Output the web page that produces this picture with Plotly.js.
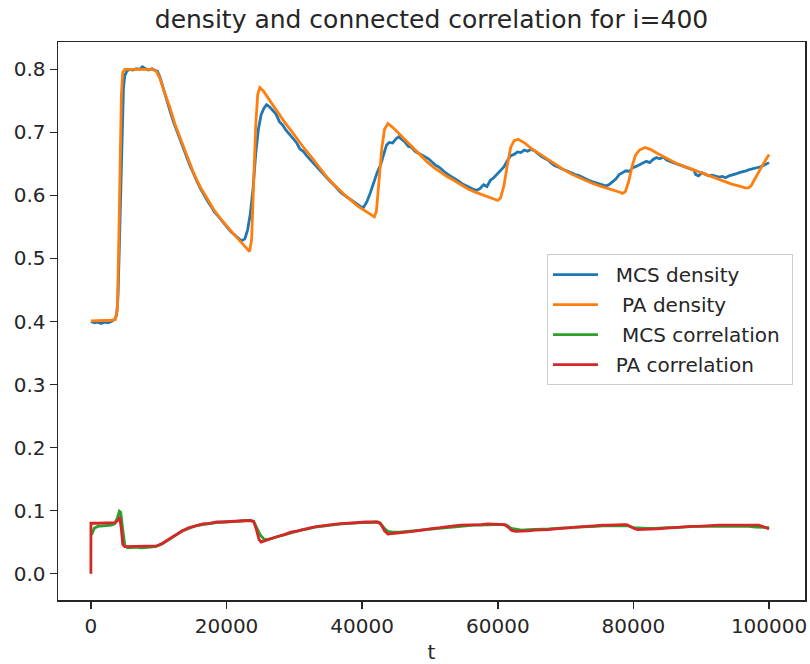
<!DOCTYPE html>
<html>
<head>
<meta charset="utf-8">
<script src="https://cdn.plot.ly/plotly-3.0.1.min.js"></script>
<style>body{margin:0;padding:0;background:#fff}#chart{width:810px;height:664px}</style>
</head>
<body>
<div id="chart"></div>
<script>
var seriesNames = ["\u00A0\u00A0MCS density", "\u00A0\u00A0\u00A0PA density", "\u00A0\u00A0\u00A0MCS correlation\u00A0", "\u00A0\u00A0PA correlation"];
var xTickVals = [0, 20000, 40000, 60000, 80000, 100000];
var yTickVals = [0.0, 0.1, 0.2, 0.3, 0.4, 0.5, 0.6, 0.7, 0.8];

var mcsDensityT = [0,500,1000,1500,2000,2500,3000,3500,3800,4000,4200,4400,4600,4800,5000,5300,5700,6200,6700,7200,7600,8000,8500,9000,9500,9800,10200,10700,11200,11700,12200,12700,13200,13700,14200,14700,15200,15700,16200,16700,17200,17700,18200,18700,19200,19700,20200,20700,21200,21700,22200,22700,23100,23500,23900,24300,24700,25100,25500,25900,26300,26800,27300,27800,28300,28800,29300,29800,30300,30800,31300,31800,32300,32800,33300,33800,34300,34800,35300,35800,36300,36800,37300,37800,38300,38800,39300,39800,40200,40700,41200,41700,42200,42700,43200,43600,44000,44500,45000,45400,45800,46300,46800,47300,47800,48300,48800,49300,49800,50300,50800,51300,51800,52300,52800,53300,53800,54300,54800,55300,55800,56300,56900,57400,57900,58400,58900,59400,59900,60400,60900,61400,61900,62400,62900,63400,63900,64400,64900,65400,65900,66400,66900,67400,67900,68400,68900,69400,69900,70400,70900,71400,71900,72400,72900,73400,73900,74400,74900,75400,75900,76400,76900,77400,77900,78400,78900,79400,79900,80400,80900,81400,81900,82400,82900,83400,83900,84400,84900,85400,85900,86400,86900,87400,87900,88400,88900,89200,89600,90100,90600,91100,91600,92100,92600,93100,93600,94100,94600,95100,95600,96100,96600,97100,97600,98100,98600,99100,99600,100000];
var mcsDensity = [0.400,0.398,0.399,0.397,0.399,0.398,0.400,0.403,0.410,0.440,0.520,0.620,0.710,0.770,0.790,0.797,0.800,0.799,0.801,0.800,0.804,0.801,0.799,0.801,0.798,0.797,0.787,0.768,0.749,0.733,0.716,0.701,0.686,0.671,0.659,0.645,0.632,0.621,0.610,0.600,0.591,0.583,0.574,0.568,0.561,0.554,0.548,0.542,0.537,0.532,0.528,0.531,0.545,0.570,0.610,0.665,0.705,0.728,0.738,0.744,0.741,0.735,0.729,0.717,0.711,0.703,0.697,0.690,0.684,0.674,0.670,0.663,0.657,0.651,0.645,0.640,0.634,0.628,0.622,0.617,0.611,0.605,0.601,0.597,0.593,0.589,0.585,0.582,0.581,0.590,0.604,0.620,0.636,0.648,0.665,0.680,0.684,0.683,0.690,0.693,0.689,0.685,0.678,0.676,0.670,0.667,0.665,0.662,0.658,0.653,0.648,0.645,0.640,0.636,0.632,0.629,0.625,0.622,0.618,0.616,0.613,0.610,0.608,0.611,0.617,0.614,0.624,0.628,0.634,0.640,0.645,0.655,0.663,0.665,0.669,0.668,0.672,0.670,0.673,0.671,0.666,0.662,0.659,0.656,0.651,0.647,0.645,0.642,0.640,0.638,0.635,0.633,0.632,0.629,0.627,0.624,0.622,0.620,0.618,0.617,0.615,0.617,0.621,0.626,0.633,0.636,0.639,0.638,0.644,0.646,0.649,0.651,0.654,0.652,0.657,0.660,0.658,0.661,0.656,0.654,0.652,0.650,0.648,0.646,0.645,0.643,0.640,0.633,0.631,0.636,0.633,0.631,0.632,0.630,0.629,0.630,0.628,0.631,0.632,0.634,0.636,0.637,0.639,0.641,0.642,0.644,0.645,0.647,0.650,0.652];

var paDensityT = [0,1000,2000,3000,3600,3900,4100,4300,4500,4700,5000,6000,7000,8000,9000,9600,10200,10800,11600,12400,13200,14200,15200,16200,17200,18200,19200,20200,21200,22200,23000,23400,23700,24000,24300,24600,24900,25400,26500,27500,28500,29500,30500,31500,32500,33500,34500,35500,36500,37500,38500,39500,40500,41400,41800,42100,42500,42900,43300,43800,44500,45500,46500,47500,48500,49500,50500,51500,52500,53500,54500,55500,56500,57500,58500,59500,60000,60400,60900,61400,61900,62400,63000,64000,65000,66000,67000,68000,69000,70000,71000,72000,73000,74000,75000,76000,77000,78000,78400,78800,79300,79800,80300,80900,81700,82500,83500,84500,85500,86500,87500,88500,89500,90500,91500,92500,93500,94500,95500,96500,97000,97400,97900,98500,99200,100000];
var paDensity = [0.401,0.401,0.401,0.402,0.403,0.420,0.520,0.650,0.760,0.795,0.800,0.800,0.800,0.800,0.800,0.798,0.785,0.765,0.741,0.713,0.690,0.661,0.634,0.612,0.593,0.576,0.562,0.549,0.537,0.525,0.515,0.511,0.530,0.620,0.710,0.760,0.771,0.766,0.748,0.732,0.717,0.703,0.688,0.674,0.661,0.646,0.633,0.621,0.610,0.600,0.591,0.582,0.575,0.569,0.566,0.575,0.620,0.675,0.705,0.714,0.708,0.697,0.686,0.675,0.664,0.654,0.645,0.637,0.630,0.624,0.617,0.611,0.606,0.602,0.598,0.594,0.592,0.596,0.615,0.648,0.676,0.687,0.689,0.683,0.674,0.667,0.660,0.652,0.646,0.639,0.633,0.628,0.623,0.619,0.615,0.612,0.608,0.605,0.603,0.606,0.622,0.646,0.664,0.672,0.676,0.673,0.667,0.661,0.655,0.650,0.646,0.642,0.637,0.633,0.629,0.625,0.621,0.618,0.615,0.612,0.612,0.616,0.626,0.638,0.651,0.665];

var mcsCorrT = [100,500,1000,2000,3000,3500,3900,4200,4400,4700,5000,5400,6500,7500,8500,9500,10500,11500,12500,13500,14500,15500,16500,17500,18500,19500,20500,21500,22500,23500,24000,24500,25000,25500,26000,27000,28000,29000,30000,31000,32000,33000,34000,35000,36000,37000,38000,39000,40000,41000,42000,42600,43200,43800,44500,45500,46500,47500,48500,49500,50500,51500,52500,53500,54500,55500,56500,57500,58500,59500,60500,61300,62000,62800,63500,64500,65500,66500,67500,68500,69500,70500,71500,72500,73500,74500,75500,76500,77500,78500,79200,80000,81000,82000,83000,84000,85000,86000,87000,88000,89000,90000,91000,92000,93000,94000,95000,96000,97000,98000,99000,100000];
var mcsCorr = [0.062,0.072,0.075,0.076,0.077,0.079,0.088,0.099,0.097,0.070,0.045,0.041,0.042,0.041,0.042,0.043,0.047,0.054,0.062,0.068,0.072,0.076,0.078,0.080,0.081,0.082,0.082,0.083,0.084,0.085,0.083,0.072,0.061,0.055,0.054,0.057,0.060,0.064,0.066,0.069,0.071,0.074,0.075,0.077,0.078,0.079,0.080,0.080,0.081,0.081,0.082,0.081,0.073,0.067,0.066,0.066,0.067,0.068,0.069,0.071,0.072,0.073,0.074,0.075,0.076,0.076,0.077,0.077,0.078,0.078,0.078,0.077,0.072,0.070,0.069,0.070,0.070,0.071,0.071,0.072,0.072,0.073,0.074,0.074,0.075,0.075,0.076,0.076,0.077,0.077,0.076,0.073,0.072,0.072,0.072,0.073,0.073,0.073,0.074,0.074,0.075,0.075,0.075,0.075,0.076,0.075,0.075,0.076,0.075,0.074,0.074,0.073];

var paCorrT = [0,10,1000,2000,3000,3600,4000,4250,4500,4700,5000,6000,7000,8000,9000,9700,10500,11500,12500,13500,14500,15500,16500,17500,18500,19500,20500,21500,22500,23500,24000,24400,24800,25100,25600,26500,27500,28500,29500,30500,31500,32500,33500,34500,35500,36500,37500,38500,39500,40500,41500,42300,42800,43300,43800,44500,45500,46500,47500,48500,49500,50500,51500,52500,53500,54500,55500,56500,57500,58500,59500,60500,61000,61500,62000,62600,63500,64500,65500,66500,67500,68500,69500,70500,71500,72500,73500,74500,75500,76500,77500,78500,79000,79500,80000,80600,81500,82500,83500,84500,85500,86500,87500,88500,89500,90500,91500,92500,93500,94500,95500,96500,97500,98500,99300,100000];
var paCorr = [0.000,0.080,0.080,0.080,0.080,0.081,0.085,0.090,0.070,0.046,0.043,0.043,0.043,0.043,0.043,0.044,0.048,0.055,0.062,0.068,0.073,0.076,0.079,0.080,0.082,0.082,0.083,0.083,0.084,0.084,0.083,0.070,0.054,0.050,0.052,0.055,0.059,0.062,0.066,0.068,0.071,0.073,0.075,0.077,0.078,0.079,0.080,0.081,0.081,0.082,0.082,0.082,0.078,0.068,0.063,0.064,0.065,0.066,0.067,0.069,0.070,0.072,0.073,0.075,0.076,0.077,0.077,0.078,0.078,0.079,0.079,0.079,0.078,0.074,0.069,0.067,0.067,0.068,0.069,0.069,0.070,0.071,0.072,0.073,0.074,0.075,0.075,0.076,0.077,0.077,0.078,0.078,0.078,0.075,0.072,0.070,0.070,0.071,0.071,0.072,0.073,0.073,0.074,0.075,0.075,0.076,0.076,0.077,0.077,0.077,0.078,0.078,0.078,0.077,0.074,0.071];

var colors = ["#1f77b4", "#ff7f0e", "#2ca02c", "#d62728"];
var FONT = "DejaVu Sans, sans-serif";
var LW = 2.8;

var traces = [
  {x: mcsDensityT, y: mcsDensity, name: seriesNames[0]},
  {x: paDensityT, y: paDensity, name: seriesNames[1]},
  {x: mcsCorrT, y: mcsCorr, name: seriesNames[2]},
  {x: paCorrT, y: paCorr, name: seriesNames[3]}
].map(function (tr, i) {
  tr.type = "scatter";
  tr.mode = "lines";
  tr.line = {color: colors[i], width: LW};
  tr.legendgroup = "g" + i;
  return tr;
});

var axisCommon = {
  showgrid: false, zeroline: false, showline: true, mirror: true,
  linecolor: "#262626", linewidth: 1.5,
  ticks: "outside", ticklen: 7, tickwidth: 1.5, tickcolor: "#262626",
  tickfont: {family: FONT, size: 20, color: "#262626"}
};

var layout = {
  width: 810, height: 664,
  margin: {l: 58, r: 5, t: 42, b: 64, pad: 0},
  paper_bgcolor: "#fff", plot_bgcolor: "#fff",
  font: {family: FONT, color: "#262626"},
  title: {text: "density and connected correlation for i=400", font: {family: FONT, size: 25, color: "#262626"},
          x: 0.5, xref: "paper", xanchor: "center", y: 1 - 19/664, yref: "container", yanchor: "middle"},
  xaxis: Object.assign({}, axisCommon, {
    range: [-4850, 105300], tickvals: xTickVals, tickformat: "d",
    title: {text: "t", font: {family: FONT, size: 20, color: "#262626"}, standoff: 8}
  }),
  yaxis: Object.assign({}, axisCommon, {
    range: [-0.0417, 0.8433], tickvals: yTickVals, tickformat: ".1f"
  }),
  showlegend: true,
  legend: {
    x: 0.6546, y: 0.620, xanchor: "left", yanchor: "top",
    bgcolor: "rgba(255,255,255,0.8)", bordercolor: "#cccccc", borderwidth: 1,
    font: {family: FONT, size: 20, color: "#262626"}, itemwidth: 45,
    traceorder: "grouped", tracegroupgap: 1
  }
};

Plotly.newPlot("chart", traces, layout, {displayModeBar: false, staticPlot: true});
</script>
</body>
</html>
